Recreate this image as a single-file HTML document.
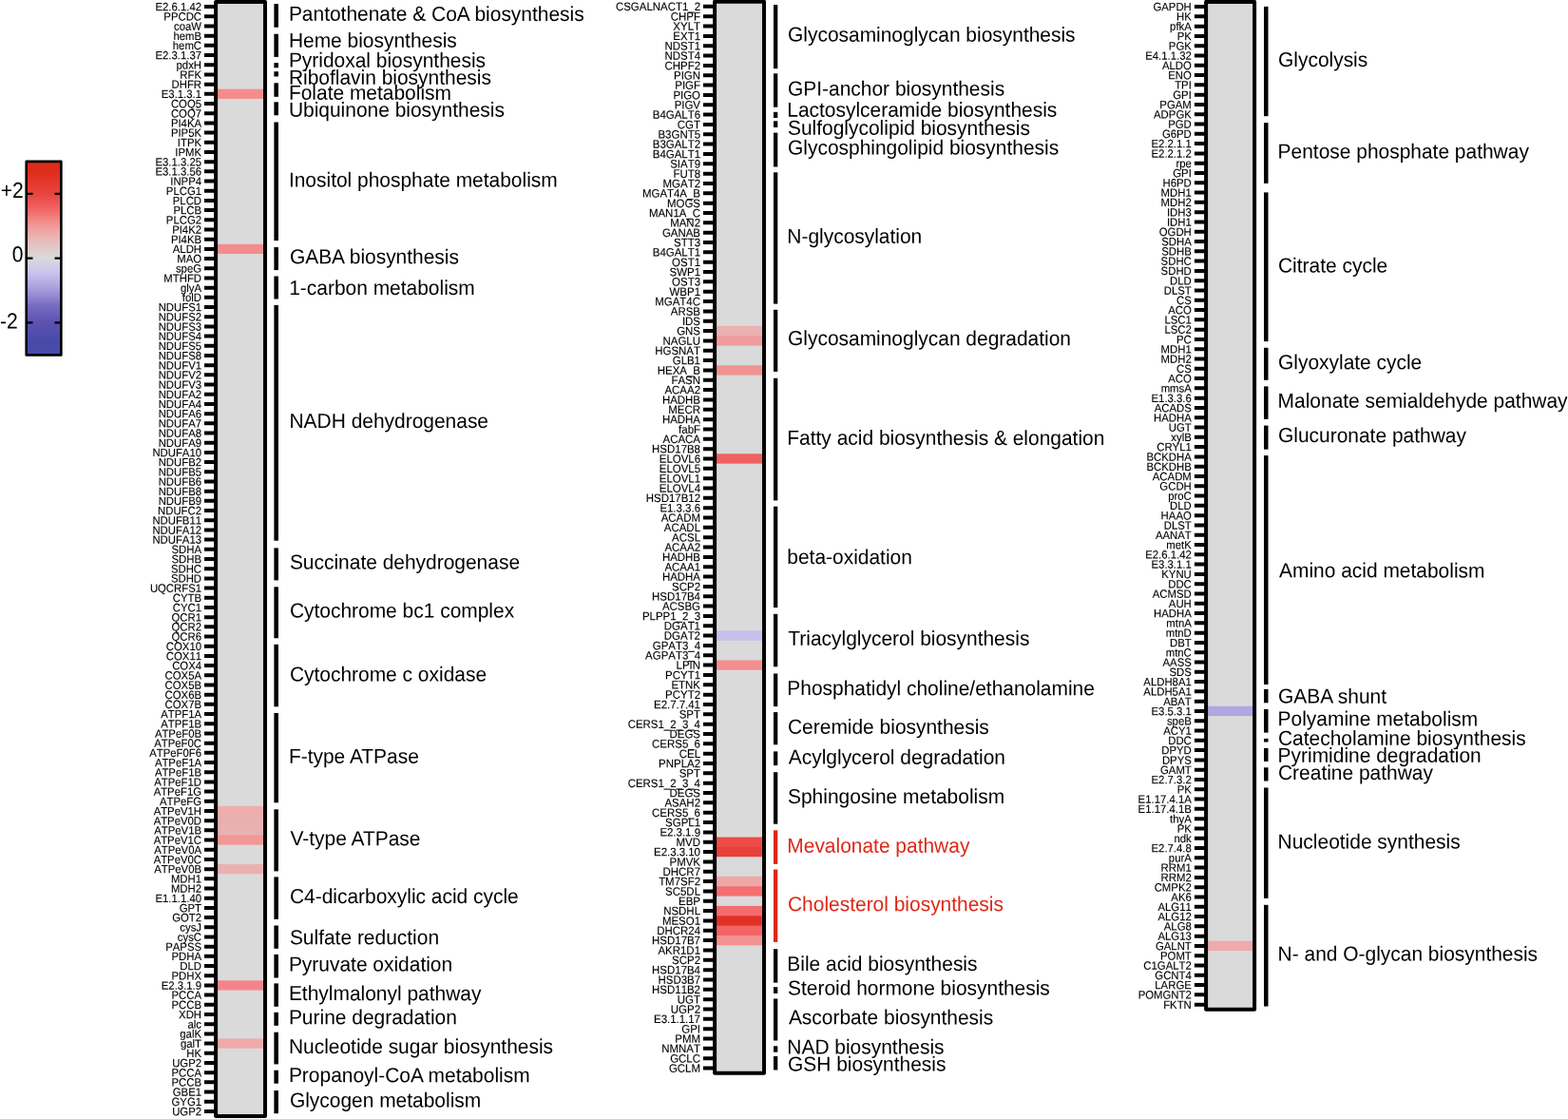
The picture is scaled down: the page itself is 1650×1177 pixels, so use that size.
<!DOCTYPE html>
<html lang="en">
<head>
<meta charset="utf-8">
<title>Metabolic pathway heatmap</title>
<style>
html,body{margin:0;padding:0;background:#fff;}
body{width:1650px;height:1177px;overflow:hidden;position:relative;}
svg{display:block;position:absolute;left:0;top:0;}
#ramp{position:absolute;left:27.7px;top:169.9px;width:36.65px;height:203.5px;background:linear-gradient(to bottom,#dc2c1a 0%,#de2c1a 5%,#e84440 16.7%,#f26464 24.6%,#f28686 30%,#f09a9a 33.5%,#eeacac 37.5%,#e4c4c4 43.5%,#dadada 50%,#c8c4ee 57.5%,#aca2de 65%,#9286d0 70%,#786cc2 74.5%,#5e52b2 83%,#484aa8 93%,#464aaa 100%);}
text{font-family:"Liberation Sans",Arial,Helvetica,sans-serif;fill:#000;text-rendering:geometricPrecision;}
.g{text-anchor:end;stroke:#000;stroke-width:0.12px;font-kerning:none;}
.p{font-size:20.95px;}
.r{fill:#dc2818;}
.k{font-size:23.2px;}
</style>
</head>
<body>
<div id="ramp"></div>
<svg width="1650" height="1177" viewBox="0 0 1650 1177">
<g id="key">
<rect x="27.7" y="169.9" width="36.65" height="203.5" fill="none" stroke="#000" stroke-width="2.6" stroke-linejoin="round"/>
<path d="M27.7 203.8h6.8M64.35 203.8h-6.8" stroke="#000" stroke-width="2.2" fill="none"/>
<text class="k" transform="matrix(0.91 0.0005 0 1 0.7 207.9)">+2</text>
<path d="M27.7 271.6h6.8M64.35 271.6h-6.8" stroke="#000" stroke-width="2.2" fill="none"/>
<text class="k" transform="matrix(0.91 0.0005 0 1 12.8 275.3)">0</text>
<path d="M27.7 339.3h6.8M64.35 339.3h-6.8" stroke="#000" stroke-width="2.2" fill="none"/>
<text class="k" transform="matrix(0.91 0.0005 0 1 0 345.5)">-2</text>
</g>
<g id="col1">
<rect x="227.1" y="2" width="51.9" height="1172" fill="#dadada"/>
<rect x="227.1" y="93.72" width="51.9" height="10.19" fill="#f48c8c"/>
<rect x="227.1" y="256.78" width="51.9" height="10.19" fill="#f48c8c"/>
<rect x="227.1" y="847.88" width="51.9" height="10.79" fill="#eeaeae"/>
<rect x="227.1" y="858.07" width="51.9" height="10.79" fill="#e9b0b0"/>
<rect x="227.1" y="868.26" width="51.9" height="10.79" fill="#e6b2b2"/>
<rect x="227.1" y="878.45" width="51.9" height="10.19" fill="#f29896"/>
<rect x="227.1" y="909.03" width="51.9" height="10.19" fill="#eab0b0"/>
<rect x="227.1" y="1031.32" width="51.9" height="10.19" fill="#f4848a"/>
<rect x="227.1" y="1092.47" width="51.9" height="10.19" fill="#efaaaa"/>
<line x1="221.05" y1="5.1" x2="221.05" y2="1170.9" stroke="#000" stroke-width="12.1" stroke-dasharray="4 6.19130"/>
<rect x="227.1" y="2" width="51.9" height="1172" fill="none" stroke="#000" stroke-width="4" stroke-linejoin="round"/>
<g class="g" font-size="12.05">
<text transform="matrix(0.94 0.0005 0 1 212 11.35)">E2.6.1.42</text>
<text transform="matrix(0.94 0.0005 0 1 212 21.54)">PPCDC</text>
<text transform="matrix(0.94 0.0005 0 1 212 31.73)">coaW</text>
<text transform="matrix(0.94 0.0005 0 1 212 41.92)">hemB</text>
<text transform="matrix(0.94 0.0005 0 1 212 52.11)">hemC</text>
<text transform="matrix(0.94 0.0005 0 1 212 62.3)">E2.3.1.37</text>
<text transform="matrix(0.94 0.0005 0 1 212 72.49)">pdxH</text>
<text transform="matrix(0.94 0.0005 0 1 212 82.68)">RFK</text>
<text transform="matrix(0.94 0.0005 0 1 212 92.88)">DHFR</text>
<text transform="matrix(0.94 0.0005 0 1 212 103.07)">E3.1.3.1</text>
<text transform="matrix(0.94 0.0005 0 1 212 113.26)">COQ5</text>
<text transform="matrix(0.94 0.0005 0 1 212 123.45)">COQ7</text>
<text transform="matrix(0.94 0.0005 0 1 212 133.64)">PI4KA</text>
<text transform="matrix(0.94 0.0005 0 1 212 143.83)">PIP5K</text>
<text transform="matrix(0.94 0.0005 0 1 212 154.02)">ITPK</text>
<text transform="matrix(0.94 0.0005 0 1 212 164.22)">IPMK</text>
<text transform="matrix(0.94 0.0005 0 1 212 174.41)">E3.1.3.25</text>
<text transform="matrix(0.94 0.0005 0 1 212 184.6)">E3.1.3.56</text>
<text transform="matrix(0.94 0.0005 0 1 212 194.79)">INPP4</text>
<text transform="matrix(0.94 0.0005 0 1 212 204.98)">PLCG1</text>
<text transform="matrix(0.94 0.0005 0 1 212 215.17)">PLCD</text>
<text transform="matrix(0.94 0.0005 0 1 212 225.36)">PLCB</text>
<text transform="matrix(0.94 0.0005 0 1 212 235.55)">PLCG2</text>
<text transform="matrix(0.94 0.0005 0 1 212 245.75)">PI4K2</text>
<text transform="matrix(0.94 0.0005 0 1 212 255.94)">PI4KB</text>
<text transform="matrix(0.94 0.0005 0 1 212 266.13)">ALDH</text>
<text transform="matrix(0.94 0.0005 0 1 212 276.32)">MAO</text>
<text transform="matrix(0.94 0.0005 0 1 212 286.51)">speG</text>
<text transform="matrix(0.94 0.0005 0 1 212 296.7)">MTHFD</text>
<text transform="matrix(0.94 0.0005 0 1 212 306.89)">glyA</text>
<text transform="matrix(0.94 0.0005 0 1 212 317.08)">folD</text>
<text transform="matrix(0.94 0.0005 0 1 212 327.28)">NDUFS1</text>
<text transform="matrix(0.94 0.0005 0 1 212 337.47)">NDUFS2</text>
<text transform="matrix(0.94 0.0005 0 1 212 347.66)">NDUFS3</text>
<text transform="matrix(0.94 0.0005 0 1 212 357.85)">NDUFS4</text>
<text transform="matrix(0.94 0.0005 0 1 212 368.04)">NDUFS5</text>
<text transform="matrix(0.94 0.0005 0 1 212 378.23)">NDUFS8</text>
<text transform="matrix(0.94 0.0005 0 1 212 388.42)">NDUFV1</text>
<text transform="matrix(0.94 0.0005 0 1 212 398.62)">NDUFV2</text>
<text transform="matrix(0.94 0.0005 0 1 212 408.81)">NDUFV3</text>
<text transform="matrix(0.94 0.0005 0 1 212 419)">NDUFA2</text>
<text transform="matrix(0.94 0.0005 0 1 212 429.19)">NDUFA4</text>
<text transform="matrix(0.94 0.0005 0 1 212 439.38)">NDUFA6</text>
<text transform="matrix(0.94 0.0005 0 1 212 449.57)">NDUFA7</text>
<text transform="matrix(0.94 0.0005 0 1 212 459.76)">NDUFA8</text>
<text transform="matrix(0.94 0.0005 0 1 212 469.95)">NDUFA9</text>
<text transform="matrix(0.94 0.0005 0 1 212 480.15)">NDUFA10</text>
<text transform="matrix(0.94 0.0005 0 1 212 490.34)">NDUFB2</text>
<text transform="matrix(0.94 0.0005 0 1 212 500.53)">NDUFB5</text>
<text transform="matrix(0.94 0.0005 0 1 212 510.72)">NDUFB6</text>
<text transform="matrix(0.94 0.0005 0 1 212 520.91)">NDUFB8</text>
<text transform="matrix(0.94 0.0005 0 1 212 531.1)">NDUFB9</text>
<text transform="matrix(0.94 0.0005 0 1 212 541.29)">NDUFC2</text>
<text transform="matrix(0.94 0.0005 0 1 212 551.48)">NDUFB11</text>
<text transform="matrix(0.94 0.0005 0 1 212 561.68)">NDUFA12</text>
<text transform="matrix(0.94 0.0005 0 1 212 571.87)">NDUFA13</text>
<text transform="matrix(0.94 0.0005 0 1 212 582.06)">SDHA</text>
<text transform="matrix(0.94 0.0005 0 1 212 592.25)">SDHB</text>
<text transform="matrix(0.94 0.0005 0 1 212 602.44)">SDHC</text>
<text transform="matrix(0.94 0.0005 0 1 212 612.63)">SDHD</text>
<text transform="matrix(0.94 0.0005 0 1 212 622.82)">UQCRFS1</text>
<text transform="matrix(0.94 0.0005 0 1 212 633.02)">CYTB</text>
<text transform="matrix(0.94 0.0005 0 1 212 643.21)">CYC1</text>
<text transform="matrix(0.94 0.0005 0 1 212 653.4)">QCR1</text>
<text transform="matrix(0.94 0.0005 0 1 212 663.59)">QCR2</text>
<text transform="matrix(0.94 0.0005 0 1 212 673.78)">QCR6</text>
<text transform="matrix(0.94 0.0005 0 1 212 683.97)">COX10</text>
<text transform="matrix(0.94 0.0005 0 1 212 694.16)">COX11</text>
<text transform="matrix(0.94 0.0005 0 1 212 704.35)">COX4</text>
<text transform="matrix(0.94 0.0005 0 1 212 714.55)">COX5A</text>
<text transform="matrix(0.94 0.0005 0 1 212 724.74)">COX5B</text>
<text transform="matrix(0.94 0.0005 0 1 212 734.93)">COX6B</text>
<text transform="matrix(0.94 0.0005 0 1 212 745.12)">COX7B</text>
<text transform="matrix(0.94 0.0005 0 1 212 755.31)">ATPF1A</text>
<text transform="matrix(0.94 0.0005 0 1 212 765.5)">ATPF1B</text>
<text transform="matrix(0.94 0.0005 0 1 212 775.69)">ATPeF0B</text>
<text transform="matrix(0.94 0.0005 0 1 212 785.88)">ATPeF0C</text>
<text transform="matrix(0.94 0.0005 0 1 212 796.08)">ATPeF0F6</text>
<text transform="matrix(0.94 0.0005 0 1 212 806.27)">ATPeF1A</text>
<text transform="matrix(0.94 0.0005 0 1 212 816.46)">ATPeF1B</text>
<text transform="matrix(0.94 0.0005 0 1 212 826.65)">ATPeF1D</text>
<text transform="matrix(0.94 0.0005 0 1 212 836.84)">ATPeF1G</text>
<text transform="matrix(0.94 0.0005 0 1 212 847.03)">ATPeFG</text>
<text transform="matrix(0.94 0.0005 0 1 212 857.22)">ATPeV1H</text>
<text transform="matrix(0.94 0.0005 0 1 212 867.42)">ATPeV0D</text>
<text transform="matrix(0.94 0.0005 0 1 212 877.61)">ATPeV1B</text>
<text transform="matrix(0.94 0.0005 0 1 212 887.8)">ATPeV1C</text>
<text transform="matrix(0.94 0.0005 0 1 212 897.99)">ATPeV0A</text>
<text transform="matrix(0.94 0.0005 0 1 212 908.18)">ATPeV0C</text>
<text transform="matrix(0.94 0.0005 0 1 212 918.37)">ATPeV0B</text>
<text transform="matrix(0.94 0.0005 0 1 212 928.56)">MDH1</text>
<text transform="matrix(0.94 0.0005 0 1 212 938.75)">MDH2</text>
<text transform="matrix(0.94 0.0005 0 1 212 948.95)">E1.1.1.40</text>
<text transform="matrix(0.94 0.0005 0 1 212 959.14)">GPT</text>
<text transform="matrix(0.94 0.0005 0 1 212 969.33)">GOT2</text>
<text transform="matrix(0.94 0.0005 0 1 212 979.52)">cysJ</text>
<text transform="matrix(0.94 0.0005 0 1 212 989.71)">cysC</text>
<text transform="matrix(0.94 0.0005 0 1 212 999.9)">PAPSS</text>
<text transform="matrix(0.94 0.0005 0 1 212 1010.09)">PDHA</text>
<text transform="matrix(0.94 0.0005 0 1 212 1020.28)">DLD</text>
<text transform="matrix(0.94 0.0005 0 1 212 1030.48)">PDHX</text>
<text transform="matrix(0.94 0.0005 0 1 212 1040.67)">E2.3.1.9</text>
<text transform="matrix(0.94 0.0005 0 1 212 1050.86)">PCCA</text>
<text transform="matrix(0.94 0.0005 0 1 212 1061.05)">PCCB</text>
<text transform="matrix(0.94 0.0005 0 1 212 1071.24)">XDH</text>
<text transform="matrix(0.94 0.0005 0 1 212 1081.43)">alc</text>
<text transform="matrix(0.94 0.0005 0 1 212 1091.62)">galK</text>
<text transform="matrix(0.94 0.0005 0 1 212 1101.82)">galT</text>
<text transform="matrix(0.94 0.0005 0 1 212 1112.01)">HK</text>
<text transform="matrix(0.94 0.0005 0 1 212 1122.2)">UGP2</text>
<text transform="matrix(0.94 0.0005 0 1 212 1132.39)">PCCA</text>
<text transform="matrix(0.94 0.0005 0 1 212 1142.58)">PCCB</text>
<text transform="matrix(0.94 0.0005 0 1 212 1152.77)">GBE1</text>
<text transform="matrix(0.94 0.0005 0 1 212 1162.96)">GYG1</text>
<text transform="matrix(0.94 0.0005 0 1 212 1173.15)">UGP2</text>
</g>
<rect x="288.4" y="4.1" width="4.5" height="24.7" fill="#000"/>
<text class="p" transform="matrix(1 0.0005 0 1.03 303.9 21.8)">Pantothenate &amp; CoA biosynthesis</text>
<rect x="288.4" y="35.7" width="4.5" height="24.2" fill="#000"/>
<text class="p" transform="matrix(1 0.0005 0 1.03 303.9 49.65)">Heme biosynthesis</text>
<rect x="288.4" y="66.1" width="4.5" height="5.2" fill="#000"/>
<text class="p" transform="matrix(1 0.0005 0 1.03 303.9 70.6)">Pyridoxal biosynthesis</text>
<rect x="288.4" y="75.2" width="4.5" height="5.3" fill="#000"/>
<text class="p" transform="matrix(1 0.0005 0 1.03 303.9 88.7)">Riboflavin biosynthesis</text>
<rect x="288.4" y="87.3" width="4.5" height="14.5" fill="#000"/>
<text class="p" transform="matrix(1 0.0005 0 1.03 303.9 104.8)">Folate metabolism</text>
<rect x="288.4" y="107.3" width="4.5" height="14" fill="#000"/>
<text class="p" transform="matrix(1 0.0005 0 1.03 303.9 122.7)">Ubiquinone biosynthesis</text>
<rect x="288.4" y="128.5" width="4.5" height="124.6" fill="#000"/>
<text class="p" transform="matrix(1 0.0005 0 1.03 303.9 196.4)">Inositol phosphate metabolism</text>
<rect x="288.4" y="260" width="4.5" height="24.1" fill="#000"/>
<text class="p" transform="matrix(1 0.0005 0 1.03 304.9 277.3)">GABA biosynthesis</text>
<rect x="288.4" y="290.5" width="4.5" height="24" fill="#000"/>
<text class="p" transform="matrix(1 0.0005 0 1.03 304.2 310)">1-carbon metabolism</text>
<rect x="288.4" y="320.9" width="4.5" height="247.8" fill="#000"/>
<text class="p" transform="matrix(1 0.0005 0 1.03 304.5 450)">NADH dehydrogenase</text>
<rect x="288.4" y="576.4" width="4.5" height="34" fill="#000"/>
<text class="p" transform="matrix(1 0.0005 0 1.03 304.9 598.5)">Succinate dehydrogenase</text>
<rect x="288.4" y="617.3" width="4.5" height="54" fill="#000"/>
<text class="p" transform="matrix(1 0.0005 0 1.03 304.9 649.5)">Cytochrome bc1 complex</text>
<rect x="288.4" y="677.8" width="4.5" height="65.5" fill="#000"/>
<text class="p" transform="matrix(1 0.0005 0 1.03 304.9 716.4)">Cytochrome c oxidase</text>
<rect x="288.4" y="750" width="4.5" height="94.3" fill="#000"/>
<text class="p" transform="matrix(1 0.0005 0 1.03 303.9 802.7)">F-type ATPase</text>
<rect x="288.4" y="851.3" width="4.5" height="65.1" fill="#000"/>
<text class="p" transform="matrix(1 0.0005 0 1.03 305.5 889.1)">V-type ATPase</text>
<rect x="288.4" y="922.4" width="4.5" height="44.5" fill="#000"/>
<text class="p" transform="matrix(1 0.0005 0 1.03 304.9 950)">C4-dicarboxylic acid cycle</text>
<rect x="288.4" y="973.5" width="4.5" height="24.3" fill="#000"/>
<text class="p" transform="matrix(1 0.0005 0 1.03 304.9 993.3)">Sulfate reduction</text>
<rect x="288.4" y="1003.9" width="4.5" height="24.6" fill="#000"/>
<text class="p" transform="matrix(1 0.0005 0 1.03 303.9 1021.5)">Pyruvate oxidation</text>
<rect x="288.4" y="1034.4" width="4.5" height="24.4" fill="#000"/>
<text class="p" transform="matrix(1 0.0005 0 1.03 303.9 1052.1)">Ethylmalonyl pathway</text>
<rect x="288.4" y="1064.8" width="4.5" height="14" fill="#000"/>
<text class="p" transform="matrix(1 0.0005 0 1.03 303.9 1077.2)">Purine degradation</text>
<rect x="288.4" y="1085.7" width="4.5" height="33.7" fill="#000"/>
<text class="p" transform="matrix(1 0.0005 0 1.03 303.9 1107.9)">Nucleotide sugar biosynthesis</text>
<rect x="288.4" y="1125.7" width="4.5" height="14" fill="#000"/>
<text class="p" transform="matrix(1 0.0005 0 1.03 303.9 1138.1)">Propanoyl-CoA metabolism</text>
<rect x="288.4" y="1147" width="4.5" height="24.2" fill="#000"/>
<text class="p" transform="matrix(1 0.0005 0 1.03 304.9 1164.5)">Glycogen metabolism</text>
</g>
<g id="col2">
<rect x="752.1" y="1.7" width="51.9" height="1127" fill="#dadada"/>
<rect x="752.1" y="342.9" width="51.9" height="10.94" fill="#ebb0b0"/>
<rect x="752.1" y="353.24" width="51.9" height="10.34" fill="#f09a9c"/>
<rect x="752.1" y="384.26" width="51.9" height="10.34" fill="#f09292"/>
<rect x="752.1" y="477.31" width="51.9" height="10.34" fill="#f06060"/>
<rect x="752.1" y="663.42" width="51.9" height="10.34" fill="#c6c0ec"/>
<rect x="752.1" y="694.44" width="51.9" height="10.34" fill="#f48e8e"/>
<rect x="752.1" y="880.55" width="51.9" height="10.94" fill="#ee4b46"/>
<rect x="752.1" y="890.89" width="51.9" height="10.34" fill="#e8403a"/>
<rect x="752.1" y="921.91" width="51.9" height="10.94" fill="#eea8a8"/>
<rect x="752.1" y="932.25" width="51.9" height="10.34" fill="#f56e70"/>
<rect x="752.1" y="952.93" width="51.9" height="10.94" fill="#f46c6e"/>
<rect x="752.1" y="963.27" width="51.9" height="10.94" fill="#e03222"/>
<rect x="752.1" y="973.61" width="51.9" height="10.94" fill="#f36464"/>
<rect x="752.1" y="983.95" width="51.9" height="10.34" fill="#f29292"/>
<line x1="746.05" y1="4.87" x2="746.05" y2="1125.53" stroke="#000" stroke-width="12.1" stroke-dasharray="4 6.33945"/>
<rect x="752.1" y="1.7" width="51.9" height="1127" fill="none" stroke="#000" stroke-width="4" stroke-linejoin="round"/>
<g class="g" font-size="12.18">
<text transform="matrix(0.94 0.0005 0 1 737 11.12)">CSGALNACT1_2</text>
<text transform="matrix(0.94 0.0005 0 1 737 21.46)">CHPF</text>
<text transform="matrix(0.94 0.0005 0 1 737 31.8)">XYLT</text>
<text transform="matrix(0.94 0.0005 0 1 737 42.14)">EXT1</text>
<text transform="matrix(0.94 0.0005 0 1 737 52.48)">NDST1</text>
<text transform="matrix(0.94 0.0005 0 1 737 62.82)">NDST4</text>
<text transform="matrix(0.94 0.0005 0 1 737 73.16)">CHPF2</text>
<text transform="matrix(0.94 0.0005 0 1 737 83.5)">PIGN</text>
<text transform="matrix(0.94 0.0005 0 1 737 93.84)">PIGF</text>
<text transform="matrix(0.94 0.0005 0 1 737 104.17)">PIGO</text>
<text transform="matrix(0.94 0.0005 0 1 737 114.51)">PIGV</text>
<text transform="matrix(0.94 0.0005 0 1 737 124.85)">B4GALT6</text>
<text transform="matrix(0.94 0.0005 0 1 737 135.19)">CGT</text>
<text transform="matrix(0.94 0.0005 0 1 737 145.53)">B3GNT5</text>
<text transform="matrix(0.94 0.0005 0 1 737 155.87)">B3GALT2</text>
<text transform="matrix(0.94 0.0005 0 1 737 166.21)">B4GALT1</text>
<text transform="matrix(0.94 0.0005 0 1 737 176.55)">SIAT9</text>
<text transform="matrix(0.94 0.0005 0 1 737 186.89)">FUT8</text>
<text transform="matrix(0.94 0.0005 0 1 737 197.23)">MGAT2</text>
<text transform="matrix(0.94 0.0005 0 1 737 207.57)">MGAT4A_B</text>
<text transform="matrix(0.94 0.0005 0 1 737 217.91)">MOGS</text>
<text transform="matrix(0.94 0.0005 0 1 737 228.25)">MAN1A_C</text>
<text transform="matrix(0.94 0.0005 0 1 737 238.59)">MAN2</text>
<text transform="matrix(0.94 0.0005 0 1 737 248.93)">GANAB</text>
<text transform="matrix(0.94 0.0005 0 1 737 259.27)">STT3</text>
<text transform="matrix(0.94 0.0005 0 1 737 269.61)">B4GALT1</text>
<text transform="matrix(0.94 0.0005 0 1 737 279.95)">OST1</text>
<text transform="matrix(0.94 0.0005 0 1 737 290.28)">SWP1</text>
<text transform="matrix(0.94 0.0005 0 1 737 300.62)">OST3</text>
<text transform="matrix(0.94 0.0005 0 1 737 310.96)">WBP1</text>
<text transform="matrix(0.94 0.0005 0 1 737 321.3)">MGAT4C</text>
<text transform="matrix(0.94 0.0005 0 1 737 331.64)">ARSB</text>
<text transform="matrix(0.94 0.0005 0 1 737 341.98)">IDS</text>
<text transform="matrix(0.94 0.0005 0 1 737 352.32)">GNS</text>
<text transform="matrix(0.94 0.0005 0 1 737 362.66)">NAGLU</text>
<text transform="matrix(0.94 0.0005 0 1 737 373)">HGSNAT</text>
<text transform="matrix(0.94 0.0005 0 1 737 383.34)">GLB1</text>
<text transform="matrix(0.94 0.0005 0 1 737 393.68)">HEXA_B</text>
<text transform="matrix(0.94 0.0005 0 1 737 404.02)">FASN</text>
<text transform="matrix(0.94 0.0005 0 1 737 414.36)">ACAA2</text>
<text transform="matrix(0.94 0.0005 0 1 737 424.7)">HADHB</text>
<text transform="matrix(0.94 0.0005 0 1 737 435.04)">MECR</text>
<text transform="matrix(0.94 0.0005 0 1 737 445.38)">HADHA</text>
<text transform="matrix(0.94 0.0005 0 1 737 455.72)">fabF</text>
<text transform="matrix(0.94 0.0005 0 1 737 466.06)">ACACA</text>
<text transform="matrix(0.94 0.0005 0 1 737 476.39)">HSD17B8</text>
<text transform="matrix(0.94 0.0005 0 1 737 486.73)">ELOVL6</text>
<text transform="matrix(0.94 0.0005 0 1 737 497.07)">ELOVL5</text>
<text transform="matrix(0.94 0.0005 0 1 737 507.41)">ELOVL1</text>
<text transform="matrix(0.94 0.0005 0 1 737 517.75)">ELOVL4</text>
<text transform="matrix(0.94 0.0005 0 1 737 528.09)">HSD17B12</text>
<text transform="matrix(0.94 0.0005 0 1 737 538.43)">E1.3.3.6</text>
<text transform="matrix(0.94 0.0005 0 1 737 548.77)">ACADM</text>
<text transform="matrix(0.94 0.0005 0 1 737 559.11)">ACADL</text>
<text transform="matrix(0.94 0.0005 0 1 737 569.45)">ACSL</text>
<text transform="matrix(0.94 0.0005 0 1 737 579.79)">ACAA2</text>
<text transform="matrix(0.94 0.0005 0 1 737 590.13)">HADHB</text>
<text transform="matrix(0.94 0.0005 0 1 737 600.47)">ACAA1</text>
<text transform="matrix(0.94 0.0005 0 1 737 610.81)">HADHA</text>
<text transform="matrix(0.94 0.0005 0 1 737 621.15)">SCP2</text>
<text transform="matrix(0.94 0.0005 0 1 737 631.49)">HSD17B4</text>
<text transform="matrix(0.94 0.0005 0 1 737 641.83)">ACSBG</text>
<text transform="matrix(0.94 0.0005 0 1 737 652.17)">PLPP1_2_3</text>
<text transform="matrix(0.94 0.0005 0 1 737 662.51)">DGAT1</text>
<text transform="matrix(0.94 0.0005 0 1 737 672.84)">DGAT2</text>
<text transform="matrix(0.94 0.0005 0 1 737 683.18)">GPAT3_4</text>
<text transform="matrix(0.94 0.0005 0 1 737 693.52)">AGPAT3_4</text>
<text transform="matrix(0.94 0.0005 0 1 737 703.86)">LPIN</text>
<text transform="matrix(0.94 0.0005 0 1 737 714.2)">PCYT1</text>
<text transform="matrix(0.94 0.0005 0 1 737 724.54)">ETNK</text>
<text transform="matrix(0.94 0.0005 0 1 737 734.88)">PCYT2</text>
<text transform="matrix(0.94 0.0005 0 1 737 745.22)">E2.7.7.41</text>
<text transform="matrix(0.94 0.0005 0 1 737 755.56)">SPT</text>
<text transform="matrix(0.94 0.0005 0 1 737 765.9)">CERS1_2_3_4</text>
<text transform="matrix(0.94 0.0005 0 1 737 776.24)">DEGS</text>
<text transform="matrix(0.94 0.0005 0 1 737 786.58)">CERS5_6</text>
<text transform="matrix(0.94 0.0005 0 1 737 796.92)">CEL</text>
<text transform="matrix(0.94 0.0005 0 1 737 807.26)">PNPLA2</text>
<text transform="matrix(0.94 0.0005 0 1 737 817.6)">SPT</text>
<text transform="matrix(0.94 0.0005 0 1 737 827.94)">CERS1_2_3_4</text>
<text transform="matrix(0.94 0.0005 0 1 737 838.28)">DEGS</text>
<text transform="matrix(0.94 0.0005 0 1 737 848.62)">ASAH2</text>
<text transform="matrix(0.94 0.0005 0 1 737 858.95)">CERS5_6</text>
<text transform="matrix(0.94 0.0005 0 1 737 869.29)">SGPL1</text>
<text transform="matrix(0.94 0.0005 0 1 737 879.63)">E2.3.1.9</text>
<text transform="matrix(0.94 0.0005 0 1 737 889.97)">MVD</text>
<text transform="matrix(0.94 0.0005 0 1 737 900.31)">E2.3.3.10</text>
<text transform="matrix(0.94 0.0005 0 1 737 910.65)">PMVK</text>
<text transform="matrix(0.94 0.0005 0 1 737 920.99)">DHCR7</text>
<text transform="matrix(0.94 0.0005 0 1 737 931.33)">TM7SF2</text>
<text transform="matrix(0.94 0.0005 0 1 737 941.67)">SC5DL</text>
<text transform="matrix(0.94 0.0005 0 1 737 952.01)">EBP</text>
<text transform="matrix(0.94 0.0005 0 1 737 962.35)">NSDHL</text>
<text transform="matrix(0.94 0.0005 0 1 737 972.69)">MESO1</text>
<text transform="matrix(0.94 0.0005 0 1 737 983.03)">DHCR24</text>
<text transform="matrix(0.94 0.0005 0 1 737 993.37)">HSD17B7</text>
<text transform="matrix(0.94 0.0005 0 1 737 1003.71)">AKR1D1</text>
<text transform="matrix(0.94 0.0005 0 1 737 1014.05)">SCP2</text>
<text transform="matrix(0.94 0.0005 0 1 737 1024.39)">HSD17B4</text>
<text transform="matrix(0.94 0.0005 0 1 737 1034.73)">HSD3B7</text>
<text transform="matrix(0.94 0.0005 0 1 737 1045.06)">HSD11B2</text>
<text transform="matrix(0.94 0.0005 0 1 737 1055.4)">UGT</text>
<text transform="matrix(0.94 0.0005 0 1 737 1065.74)">UGP2</text>
<text transform="matrix(0.94 0.0005 0 1 737 1076.08)">E3.1.1.17</text>
<text transform="matrix(0.94 0.0005 0 1 737 1086.42)">GPI</text>
<text transform="matrix(0.94 0.0005 0 1 737 1096.76)">PMM</text>
<text transform="matrix(0.94 0.0005 0 1 737 1107.1)">NMNAT</text>
<text transform="matrix(0.94 0.0005 0 1 737 1117.44)">GCLC</text>
<text transform="matrix(0.94 0.0005 0 1 737 1127.78)">GCLM</text>
</g>
<rect x="814" y="5.1" width="4.3" height="67.1" fill="#000"/>
<text class="p" transform="matrix(1 0.0005 0 1.03 829 43.6)">Glycosaminoglycan biosynthesis</text>
<rect x="814" y="77.3" width="4.3" height="35.4" fill="#000"/>
<text class="p" transform="matrix(1 0.0005 0 1.03 829 100.4)">GPI-anchor biosynthesis</text>
<rect x="814" y="117.8" width="4.3" height="6.2" fill="#000"/>
<text class="p" transform="matrix(1 0.0005 0 1.03 828.3 122.7)">Lactosylceramide biosynthesis</text>
<rect x="814" y="127.3" width="4.3" height="6.7" fill="#000"/>
<text class="p" transform="matrix(1 0.0005 0 1.03 829 141.8)">Sulfoglycolipid biosynthesis</text>
<rect x="814" y="139.6" width="4.3" height="35.9" fill="#000"/>
<text class="p" transform="matrix(1 0.0005 0 1.03 829 162.4)">Glycosphingolipid biosynthesis</text>
<rect x="814" y="181.3" width="4.3" height="138.3" fill="#000"/>
<text class="p" transform="matrix(1 0.0005 0 1.03 828.3 255.8)">N-glycosylation</text>
<rect x="814" y="325.8" width="4.3" height="65.1" fill="#000"/>
<text class="p" transform="matrix(1 0.0005 0 1.03 829 363.1)">Glycosaminoglycan degradation</text>
<rect x="814" y="397.8" width="4.3" height="128.6" fill="#000"/>
<text class="p" transform="matrix(1 0.0005 0 1.03 828.3 467.8)">Fatty acid biosynthesis &amp; elongation</text>
<rect x="814" y="532.7" width="4.3" height="106.4" fill="#000"/>
<text class="p" transform="matrix(1 0.0005 0 1.03 828.3 593.1)">beta-oxidation</text>
<rect x="814" y="645.8" width="4.3" height="55.5" fill="#000"/>
<text class="p" transform="matrix(1 0.0005 0 1.03 829.3 678.7)">Triacylglycerol biosynthesis</text>
<rect x="814" y="708.5" width="4.3" height="34.6" fill="#000"/>
<text class="p" transform="matrix(1 0.0005 0 1.03 828.3 731.1)">Phosphatidyl choline/ethanolamine</text>
<rect x="814" y="749.1" width="4.3" height="34.2" fill="#000"/>
<text class="p" transform="matrix(1 0.0005 0 1.03 829 771.8)">Ceremide biosynthesis</text>
<rect x="814" y="790.4" width="4.3" height="14.7" fill="#000"/>
<text class="p" transform="matrix(1 0.0005 0 1.03 829.8 803.6)">Acylglycerol degradation</text>
<rect x="814" y="812.2" width="4.3" height="54.5" fill="#000"/>
<text class="p" transform="matrix(1 0.0005 0 1.03 829 844.9)">Sphingosine metabolism</text>
<rect x="814" y="873.3" width="4.3" height="35.6" fill="#dc2818"/>
<text class="p r" transform="matrix(1 0.0005 0 1.03 828.3 896.7)">Mevalonate pathway</text>
<rect x="814" y="914.5" width="4.3" height="76.4" fill="#dc2818"/>
<text class="p r" transform="matrix(1 0.0005 0 1.03 829 958.2)">Cholesterol biosynthesis</text>
<rect x="814" y="998.2" width="4.3" height="35.4" fill="#000"/>
<text class="p" transform="matrix(1 0.0005 0 1.03 828.3 1020.9)">Bile acid biosynthesis</text>
<rect x="814" y="1038.2" width="4.3" height="6.7" fill="#000"/>
<text class="p" transform="matrix(1 0.0005 0 1.03 829 1046.4)">Steroid hormone biosynthesis</text>
<rect x="814" y="1050.5" width="4.3" height="44" fill="#000"/>
<text class="p" transform="matrix(1 0.0005 0 1.03 829.9 1077.3)">Ascorbate biosynthesis</text>
<rect x="814" y="1100.3" width="4.3" height="6.4" fill="#000"/>
<text class="p" transform="matrix(1 0.0005 0 1.03 828.3 1108.5)">NAD biosynthesis</text>
<rect x="814" y="1110.9" width="4.3" height="14.6" fill="#000"/>
<text class="p" transform="matrix(1 0.0005 0 1.03 829 1126.4)">GSH biosynthesis</text>
</g>
<g id="col3">
<rect x="1269.1" y="1.9" width="51" height="1059.9" fill="#dadada"/>
<rect x="1269.1" y="742.8" width="51" height="10.29" fill="#b0a6e2"/>
<rect x="1269.1" y="989.77" width="51" height="10.29" fill="#efaaaa"/>
<line x1="1263" y1="5.05" x2="1263" y2="1058.65" stroke="#000" stroke-width="12.2" stroke-dasharray="4 6.29029"/>
<rect x="1269.1" y="1.9" width="51" height="1059.9" fill="none" stroke="#000" stroke-width="4" stroke-linejoin="round"/>
<g class="g" font-size="12.08">
<text transform="matrix(0.94 0.0005 0 1 1253.8 11.3)">GAPDH</text>
<text transform="matrix(0.94 0.0005 0 1 1253.8 21.59)">HK</text>
<text transform="matrix(0.94 0.0005 0 1 1253.8 31.88)">pfkA</text>
<text transform="matrix(0.94 0.0005 0 1 1253.8 42.17)">PK</text>
<text transform="matrix(0.94 0.0005 0 1 1253.8 52.46)">PGK</text>
<text transform="matrix(0.94 0.0005 0 1 1253.8 62.75)">E4.1.1.32</text>
<text transform="matrix(0.94 0.0005 0 1 1253.8 73.04)">ALDO</text>
<text transform="matrix(0.94 0.0005 0 1 1253.8 83.33)">ENO</text>
<text transform="matrix(0.94 0.0005 0 1 1253.8 93.62)">TPI</text>
<text transform="matrix(0.94 0.0005 0 1 1253.8 103.91)">GPI</text>
<text transform="matrix(0.94 0.0005 0 1 1253.8 114.2)">PGAM</text>
<text transform="matrix(0.94 0.0005 0 1 1253.8 124.49)">ADPGK</text>
<text transform="matrix(0.94 0.0005 0 1 1253.8 134.78)">PGD</text>
<text transform="matrix(0.94 0.0005 0 1 1253.8 145.07)">G6PD</text>
<text transform="matrix(0.94 0.0005 0 1 1253.8 155.36)">E2.2.1.1</text>
<text transform="matrix(0.94 0.0005 0 1 1253.8 165.65)">E2.2.1.2</text>
<text transform="matrix(0.94 0.0005 0 1 1253.8 175.94)">rpe</text>
<text transform="matrix(0.94 0.0005 0 1 1253.8 186.23)">GPI</text>
<text transform="matrix(0.94 0.0005 0 1 1253.8 196.52)">H6PD</text>
<text transform="matrix(0.94 0.0005 0 1 1253.8 206.81)">MDH1</text>
<text transform="matrix(0.94 0.0005 0 1 1253.8 217.1)">MDH2</text>
<text transform="matrix(0.94 0.0005 0 1 1253.8 227.39)">IDH3</text>
<text transform="matrix(0.94 0.0005 0 1 1253.8 237.68)">IDH1</text>
<text transform="matrix(0.94 0.0005 0 1 1253.8 247.97)">OGDH</text>
<text transform="matrix(0.94 0.0005 0 1 1253.8 258.26)">SDHA</text>
<text transform="matrix(0.94 0.0005 0 1 1253.8 268.55)">SDHB</text>
<text transform="matrix(0.94 0.0005 0 1 1253.8 278.84)">SDHC</text>
<text transform="matrix(0.94 0.0005 0 1 1253.8 289.13)">SDHD</text>
<text transform="matrix(0.94 0.0005 0 1 1253.8 299.42)">DLD</text>
<text transform="matrix(0.94 0.0005 0 1 1253.8 309.71)">DLST</text>
<text transform="matrix(0.94 0.0005 0 1 1253.8 320)">CS</text>
<text transform="matrix(0.94 0.0005 0 1 1253.8 330.29)">ACO</text>
<text transform="matrix(0.94 0.0005 0 1 1253.8 340.58)">LSC1</text>
<text transform="matrix(0.94 0.0005 0 1 1253.8 350.87)">LSC2</text>
<text transform="matrix(0.94 0.0005 0 1 1253.8 361.17)">PC</text>
<text transform="matrix(0.94 0.0005 0 1 1253.8 371.46)">MDH1</text>
<text transform="matrix(0.94 0.0005 0 1 1253.8 381.75)">MDH2</text>
<text transform="matrix(0.94 0.0005 0 1 1253.8 392.04)">CS</text>
<text transform="matrix(0.94 0.0005 0 1 1253.8 402.33)">ACO</text>
<text transform="matrix(0.94 0.0005 0 1 1253.8 412.62)">mmsA</text>
<text transform="matrix(0.94 0.0005 0 1 1253.8 422.91)">E1.3.3.6</text>
<text transform="matrix(0.94 0.0005 0 1 1253.8 433.2)">ACADS</text>
<text transform="matrix(0.94 0.0005 0 1 1253.8 443.49)">HADHA</text>
<text transform="matrix(0.94 0.0005 0 1 1253.8 453.78)">UGT</text>
<text transform="matrix(0.94 0.0005 0 1 1253.8 464.07)">xylB</text>
<text transform="matrix(0.94 0.0005 0 1 1253.8 474.36)">CRYL1</text>
<text transform="matrix(0.94 0.0005 0 1 1253.8 484.65)">BCKDHA</text>
<text transform="matrix(0.94 0.0005 0 1 1253.8 494.94)">BCKDHB</text>
<text transform="matrix(0.94 0.0005 0 1 1253.8 505.23)">ACADM</text>
<text transform="matrix(0.94 0.0005 0 1 1253.8 515.52)">GCDH</text>
<text transform="matrix(0.94 0.0005 0 1 1253.8 525.81)">proC</text>
<text transform="matrix(0.94 0.0005 0 1 1253.8 536.1)">DLD</text>
<text transform="matrix(0.94 0.0005 0 1 1253.8 546.39)">HAAO</text>
<text transform="matrix(0.94 0.0005 0 1 1253.8 556.68)">DLST</text>
<text transform="matrix(0.94 0.0005 0 1 1253.8 566.97)">AANAT</text>
<text transform="matrix(0.94 0.0005 0 1 1253.8 577.26)">metK</text>
<text transform="matrix(0.94 0.0005 0 1 1253.8 587.55)">E2.6.1.42</text>
<text transform="matrix(0.94 0.0005 0 1 1253.8 597.84)">E3.3.1.1</text>
<text transform="matrix(0.94 0.0005 0 1 1253.8 608.13)">KYNU</text>
<text transform="matrix(0.94 0.0005 0 1 1253.8 618.42)">DDC</text>
<text transform="matrix(0.94 0.0005 0 1 1253.8 628.71)">ACMSD</text>
<text transform="matrix(0.94 0.0005 0 1 1253.8 639)">AUH</text>
<text transform="matrix(0.94 0.0005 0 1 1253.8 649.29)">HADHA</text>
<text transform="matrix(0.94 0.0005 0 1 1253.8 659.58)">mtnA</text>
<text transform="matrix(0.94 0.0005 0 1 1253.8 669.87)">mtnD</text>
<text transform="matrix(0.94 0.0005 0 1 1253.8 680.16)">DBT</text>
<text transform="matrix(0.94 0.0005 0 1 1253.8 690.45)">mtnC</text>
<text transform="matrix(0.94 0.0005 0 1 1253.8 700.74)">AASS</text>
<text transform="matrix(0.94 0.0005 0 1 1253.8 711.03)">SDS</text>
<text transform="matrix(0.94 0.0005 0 1 1253.8 721.33)">ALDH8A1</text>
<text transform="matrix(0.94 0.0005 0 1 1253.8 731.62)">ALDH5A1</text>
<text transform="matrix(0.94 0.0005 0 1 1253.8 741.91)">ABAT</text>
<text transform="matrix(0.94 0.0005 0 1 1253.8 752.2)">E3.5.3.1</text>
<text transform="matrix(0.94 0.0005 0 1 1253.8 762.49)">speB</text>
<text transform="matrix(0.94 0.0005 0 1 1253.8 772.78)">ACY1</text>
<text transform="matrix(0.94 0.0005 0 1 1253.8 783.07)">DDC</text>
<text transform="matrix(0.94 0.0005 0 1 1253.8 793.36)">DPYD</text>
<text transform="matrix(0.94 0.0005 0 1 1253.8 803.65)">DPYS</text>
<text transform="matrix(0.94 0.0005 0 1 1253.8 813.94)">GAMT</text>
<text transform="matrix(0.94 0.0005 0 1 1253.8 824.23)">E2.7.3.2</text>
<text transform="matrix(0.94 0.0005 0 1 1253.8 834.52)">PK</text>
<text transform="matrix(0.94 0.0005 0 1 1253.8 844.81)">E1.17.4.1A</text>
<text transform="matrix(0.94 0.0005 0 1 1253.8 855.1)">E1.17.4.1B</text>
<text transform="matrix(0.94 0.0005 0 1 1253.8 865.39)">thyA</text>
<text transform="matrix(0.94 0.0005 0 1 1253.8 875.68)">PK</text>
<text transform="matrix(0.94 0.0005 0 1 1253.8 885.97)">ndk</text>
<text transform="matrix(0.94 0.0005 0 1 1253.8 896.26)">E2.7.4.8</text>
<text transform="matrix(0.94 0.0005 0 1 1253.8 906.55)">purA</text>
<text transform="matrix(0.94 0.0005 0 1 1253.8 916.84)">RRM1</text>
<text transform="matrix(0.94 0.0005 0 1 1253.8 927.13)">RRM2</text>
<text transform="matrix(0.94 0.0005 0 1 1253.8 937.42)">CMPK2</text>
<text transform="matrix(0.94 0.0005 0 1 1253.8 947.71)">AK6</text>
<text transform="matrix(0.94 0.0005 0 1 1253.8 958)">ALG11</text>
<text transform="matrix(0.94 0.0005 0 1 1253.8 968.29)">ALG12</text>
<text transform="matrix(0.94 0.0005 0 1 1253.8 978.58)">ALG8</text>
<text transform="matrix(0.94 0.0005 0 1 1253.8 988.87)">ALG13</text>
<text transform="matrix(0.94 0.0005 0 1 1253.8 999.16)">GALNT</text>
<text transform="matrix(0.94 0.0005 0 1 1253.8 1009.45)">POMT</text>
<text transform="matrix(0.94 0.0005 0 1 1253.8 1019.74)">C1GALT2</text>
<text transform="matrix(0.94 0.0005 0 1 1253.8 1030.03)">GCNT4</text>
<text transform="matrix(0.94 0.0005 0 1 1253.8 1040.32)">LARGE</text>
<text transform="matrix(0.94 0.0005 0 1 1253.8 1050.61)">POMGNT2</text>
<text transform="matrix(0.94 0.0005 0 1 1253.8 1060.9)">FKTN</text>
</g>
<rect x="1330" y="6.9" width="4.5" height="115.3" fill="#000"/>
<text class="p" transform="matrix(1 0.0005 0 1.03 1345 70)">Glycolysis</text>
<rect x="1330" y="129.1" width="4.5" height="63.8" fill="#000"/>
<text class="p" transform="matrix(1 0.0005 0 1.03 1344.6 166.4)">Pentose phosphate pathway</text>
<rect x="1330" y="202.4" width="4.5" height="156.7" fill="#000"/>
<text class="p" transform="matrix(1 0.0005 0 1.03 1345 286.4)">Citrate cycle</text>
<rect x="1330" y="365.8" width="4.5" height="34" fill="#000"/>
<text class="p" transform="matrix(1 0.0005 0 1.03 1345 388.2)">Glyoxylate cycle</text>
<rect x="1330" y="406.4" width="4.5" height="34.5" fill="#000"/>
<text class="p" transform="matrix(1 0.0005 0 1.03 1344.6 428.7)">Malonate semialdehyde pathway</text>
<rect x="1330" y="447.6" width="4.5" height="25.1" fill="#000"/>
<text class="p" transform="matrix(1 0.0005 0 1.03 1345 465.1)">Glucuronate pathway</text>
<rect x="1330" y="479.1" width="4.5" height="240.9" fill="#000"/>
<text class="p" transform="matrix(1 0.0005 0 1.03 1346 607.3)">Amino acid metabolism</text>
<rect x="1330" y="724.9" width="4.5" height="14.4" fill="#000"/>
<text class="p" transform="matrix(1 0.0005 0 1.03 1345 739.6)">GABA shunt</text>
<rect x="1330" y="746" width="4.5" height="24.6" fill="#000"/>
<text class="p" transform="matrix(1 0.0005 0 1.03 1344.6 763.3)">Polyamine metabolism</text>
<rect x="1330" y="776.9" width="4.5" height="3.6" fill="#000"/>
<text class="p" transform="matrix(1 0.0005 0 1.03 1345 783.7)">Catecholamine biosynthesis</text>
<rect x="1330" y="786.9" width="4.5" height="14" fill="#000"/>
<text class="p" transform="matrix(1 0.0005 0 1.03 1344.6 801.7)">Pyrimidine degradation</text>
<rect x="1330" y="807.3" width="4.5" height="14.2" fill="#000"/>
<text class="p" transform="matrix(1 0.0005 0 1.03 1345 819.9)">Creatine pathway</text>
<rect x="1330" y="828.5" width="4.5" height="116.4" fill="#000"/>
<text class="p" transform="matrix(1 0.0005 0 1.03 1344.6 892.4)">Nucleotide synthesis</text>
<rect x="1330" y="951.8" width="4.5" height="106.7" fill="#000"/>
<text class="p" transform="matrix(1 0.0005 0 1.03 1344.6 1010.5)">N- and O-glycan biosynthesis</text>
</g>
</svg>
</body>
</html>
